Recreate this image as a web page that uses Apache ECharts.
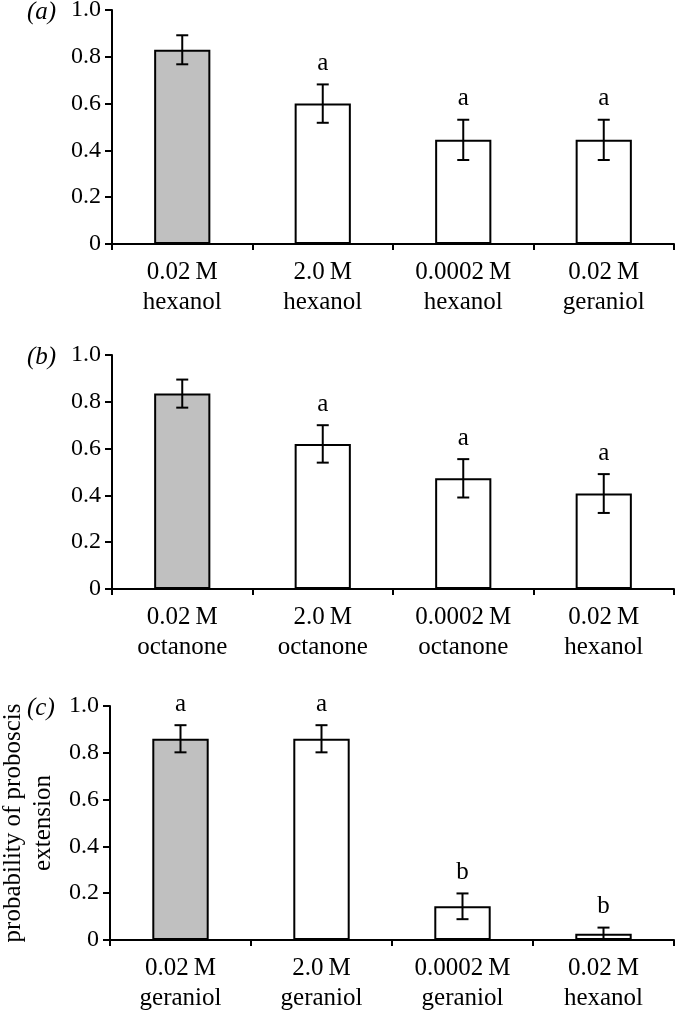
<!DOCTYPE html>
<html><head><meta charset="utf-8">
<script src="https://cdn.jsdelivr.net/npm/echarts@6/dist/echarts.min.js"></script>
<style>html,body{margin:0;padding:0;background:#fff}#c{width:676px;height:1012px}</style>
</head><body><div id="c"></div>
<script>
const catsA = ['0.02\u2009M\nhexanol', '2.0\u2009M\nhexanol', '0.0002\u2009M\nhexanol', '0.02\u2009M\ngeraniol'];
const valsA = [0.83, 0.60, 0.445, 0.445];
const errA  = [0.062, 0.082, 0.086, 0.086];
const sigA  = ['', 'a', 'a', 'a'];

const catsB = ['0.02\u2009M\noctanone', '2.0\u2009M\noctanone', '0.0002\u2009M\noctanone', '0.02\u2009M\nhexanol'];
const valsB = [0.835, 0.62, 0.473, 0.408];
const errB  = [0.06, 0.08, 0.082, 0.083];
const sigB  = ['', 'a', 'a', 'a'];

const catsC = ['0.02\u2009M\ngeraniol', '2.0\u2009M\ngeraniol', '0.0002\u2009M\ngeraniol', '0.02\u2009M\nhexanol'];
const valsC = [0.86, 0.86, 0.144, 0.027];
const errC  = [0.058, 0.058, 0.055, 0.026];
const sigC  = ['a', 'a', 'b', 'b'];

const panelLabels = ['(a)', '(b)', '(c)'];
const yName = 'probability of proboscis\nextension';

const FONT = 'Liberation Serif';
const FS = 25;
const FSY = 24;
const panels = [
  {cats: catsA, vals: valsA, err: errA, sig: sigA, top: 10, left: 112},
  {cats: catsB, vals: valsB, err: errB, sig: sigB, top: 355, left: 112},
  {cats: catsC, vals: valsC, err: errC, sig: sigC, top: 706, left: 110}
];

const grid = [], xAxis = [], yAxis = [], series = [], graphic = [];
panels.forEach((p, i) => {
  grid.push({left: p.left, width: 674 - p.left, top: p.top, height: 234, containLabel: false, outerBoundsMode: 'none'});
  xAxis.push({
    type: 'category', gridIndex: i, data: p.cats,
    axisLine: {lineStyle: {color: '#000', width: 2}},
    axisTick: {show: true, length: 6, lineStyle: {color: '#000', width: 2}, alignWithLabel: false},
    axisLabel: {color: '#000', fontFamily: FONT, fontSize: FS, lineHeight: 30, margin: 13, interval: 0}
  });
  yAxis.push({
    type: 'value', gridIndex: i, min: 0, max: 1, interval: 0.2,
    splitLine: {show: false},
    axisLine: {show: true, lineStyle: {color: '#000', width: 2}},
    axisTick: {show: true, length: 7, lineStyle: {color: '#000', width: 2}},
    axisLabel: {color: '#000', fontFamily: FONT, fontSize: FSY, margin: 11,
      formatter: v => v === 0 ? '0' : v.toFixed(1)},
    name: i === 2 ? yName : '',
    nameLocation: 'middle', nameRotate: 90, nameGap: 52,
    nameTextStyle: {color: '#000', fontFamily: FONT, fontSize: FS, lineHeight: 30}
  });
  series.push({
    type: 'bar', xAxisIndex: i, yAxisIndex: i, barWidth: '40%',
    data: p.vals.map((v, k) => ({value: v, itemStyle: {color: k === 0 ? '#c0c0c0' : '#ffffff'}})),
    itemStyle: {borderColor: '#000', borderWidth: 2},
    z: 2
  });
  series.push({
    type: 'custom', xAxisIndex: i, yAxisIndex: i,
    data: p.vals.map((v, k) => [k, v, p.err[k]]),
    encode: {x: 0, y: 1},
    renderItem: (params, api) => {
      const k = api.value(0), v = api.value(1), e = api.value(2);
      const letter = p.sig[k];
      const hi = api.coord([k, v + e]);
      const lo = api.coord([k, Math.max(0, v - e)]);
      const cap = 6;
      const st = {stroke: '#000', lineWidth: 2};
      const children = [
        {type: 'line', shape: {x1: hi[0], y1: hi[1], x2: lo[0], y2: lo[1]}, style: st},
        {type: 'line', shape: {x1: hi[0] - cap, y1: hi[1], x2: hi[0] + cap, y2: hi[1]}, style: st}
      ];
      if (v - e > 0) children.push({type: 'line', shape: {x1: lo[0] - cap, y1: lo[1], x2: lo[0] + cap, y2: lo[1]}, style: st});
      if (letter) children.push({type: 'text', style: {text: letter, x: hi[0], y: hi[1] - 21,
        align: 'center', verticalAlign: 'middle', fill: '#000', font: FS + 'px "' + FONT + '"'}});
      return {type: 'group', children};
    },
    z: 3
  });
  graphic.push({type: 'text', left: 27, top: p.top - 10,
    style: {text: panelLabels[i], fill: '#000', font: 'italic ' + FS + 'px "' + FONT + '"'}});
});

const chart = echarts.init(document.getElementById('c'), null, {renderer: 'canvas'});
chart.setOption({animation: false, backgroundColor: '#fff', grid, xAxis, yAxis, series, graphic});
</script></body></html>
